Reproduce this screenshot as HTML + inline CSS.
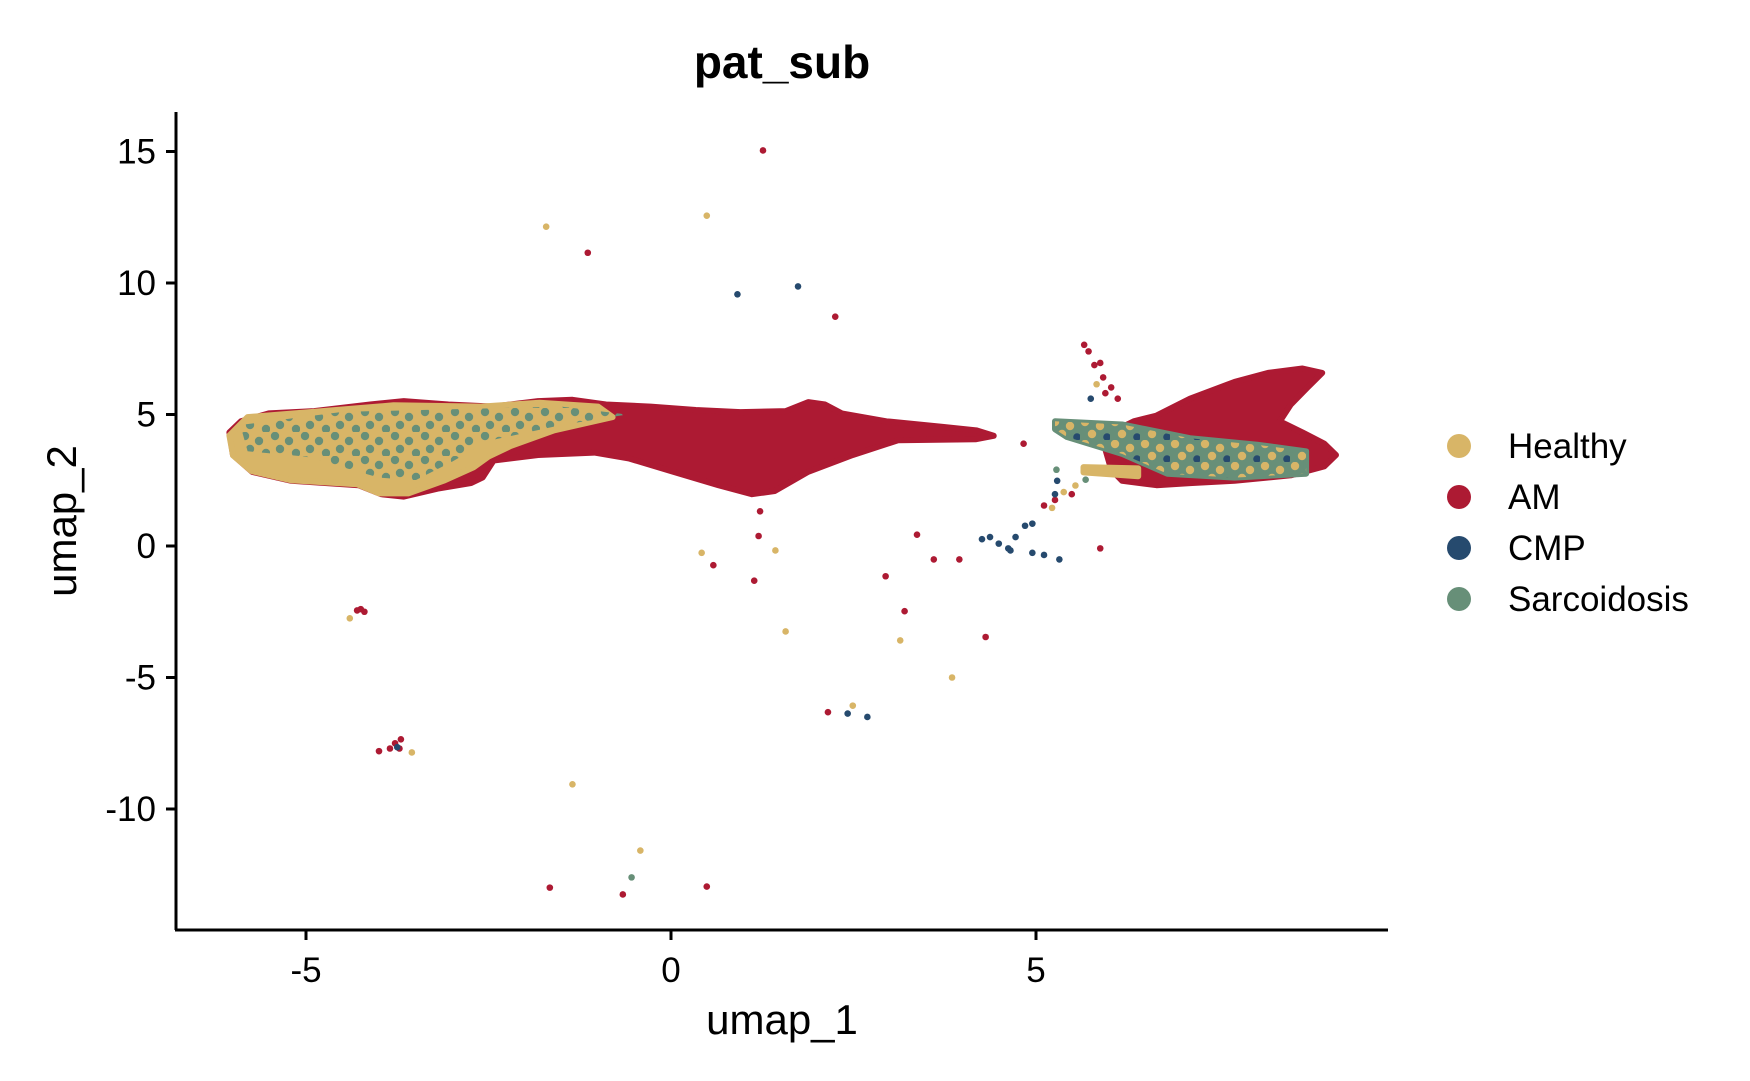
<!DOCTYPE html>
<html><head><meta charset="utf-8"><style>
body{margin:0;background:#fff}
svg{display:block;font-family:"Liberation Sans",Arial,sans-serif}
</style></head><body>
<svg id="chart" width="1750" height="1081" viewBox="0 0 1750 1081">
<defs>
<pattern id="greenDots" width="30" height="24" patternUnits="userSpaceOnUse"><circle cx="5" cy="4" r="4.2" fill="#678f78"/><circle cx="19" cy="9" r="4.2" fill="#678f78"/><circle cx="10" cy="17" r="4.2" fill="#678f78"/><circle cx="26" cy="21" r="4.2" fill="#678f78"/></pattern>
<pattern id="tanDots" width="30" height="22" patternUnits="userSpaceOnUse"><circle cx="5" cy="4" r="4.2" fill="#d8b567"/><circle cx="20" cy="8" r="4.2" fill="#d8b567"/><circle cx="12" cy="16" r="4.2" fill="#d8b567"/><circle cx="27" cy="19" r="3.8" fill="#264a6e"/></pattern>
</defs>
<text x="782" y="78" text-anchor="middle" font-size="46" font-weight="bold">pat_sub</text>
<g id="plot"></g>
<line x1="176" y1="112" x2="176" y2="930" stroke="#000" stroke-width="3"/>
<line x1="175" y1="930" x2="1388" y2="930" stroke="#000" stroke-width="3"/>
<g id="axes"></g>
<text x="782" y="1034" text-anchor="middle" font-size="42">umap_1</text>
<text transform="translate(76,521) rotate(-90)" text-anchor="middle" font-size="42">umap_2</text>
<g id="legend"></g>
</svg>
<script>
const xTicks=[-5,0,5];
const yTicks=[15,10,5,0,-5,-10];
const groups=["Healthy","AM","CMP","Sarcoidosis"];
const colors=["#d8b567","#ad1a33","#264a6e","#678f78"];
// cluster outlines (data units)
const amLeftBlob=[[-6.05,4.32],[-5.89,4.74],[-5.51,5.04],[-4.89,5.13],[-4.12,5.38],[-3.66,5.51],[-3.05,5.38],[-2.43,5.3],[-1.82,5.51],[-1.35,5.56],[-0.89,5.38],[-0.28,5.3],[0.34,5.17],[0.95,5.09],[1.57,5.13],[1.88,5.47],[2.11,5.38],[2.34,5.04],[2.95,4.74],[3.72,4.53],[4.18,4.4],[4.42,4.19],[4.18,4.06],[3.11,4.02],[2.49,3.46],[1.88,2.82],[1.42,2.09],[1.11,1.97],[0.65,2.31],[0.03,2.82],[-0.58,3.33],[-1.05,3.55],[-1.82,3.46],[-2.43,3.25],[-2.58,2.61],[-2.74,2.39],[-3.2,2.18],[-3.66,1.88],[-3.97,1.97],[-4.28,2.31],[-5.2,2.48],[-5.74,2.82],[-6.0,3.46]];
const healthyLeftBlob=[[-6.05,4.2],[-5.8,4.9],[-4.9,5.1],[-3.8,5.35],[-2.6,5.3],[-1.8,5.45],[-1.0,5.3],[-0.8,4.9],[-1.6,4.4],[-2.2,3.8],[-2.5,3.4],[-2.7,3.0],[-3.1,2.5],[-3.6,2.0],[-4.0,2.0],[-4.3,2.35],[-5.2,2.5],[-5.75,2.85],[-6.0,3.45]];
const sarcLeftBlob=[[-5.9,4.6],[-4.5,5.1],[-3,5.2],[-1.5,5.3],[-0.6,5.0],[-1.5,4.6],[-2.5,4.0],[-3,3.2],[-3.5,2.5],[-4,2.6],[-5,3.4],[-5.8,3.6]];
const amRightBlob=[[6.65,4.96],[7.11,5.6],[7.72,6.24],[8.18,6.58],[8.65,6.75],[8.92,6.58],[8.72,6.03],[8.49,5.38],[8.34,4.74],[8.65,4.32],[8.95,3.89],[9.11,3.46],[8.95,3.03],[8.49,2.69],[7.72,2.48],[7.11,2.39],[6.65,2.31],[6.18,2.48],[6.03,2.91],[5.95,3.68],[6.03,4.32],[6.34,4.74]];
const sarcRightBand=[[5.26,4.74],[6.18,4.62],[7.11,4.1],[8.03,3.85],[8.7,3.6],[8.7,2.75],[7.72,2.6],[6.8,2.75],[6.18,3.5],[5.42,4.15],[5.26,4.44]];
const healthyStreak=[[5.65,3.0],[6.4,2.95],[6.4,2.65],[5.65,2.8]];
// individual cells
const amX=[1.26,-1.14,2.25,3.37,3.6,3.95,2.94,3.2,4.31,1.14,1.2,1.22,0.58,5.88,4.83,2.15,-1.66,-0.66,0.49,-4.25,-4.2,-4.3,-3.78,-3.7,-3.85,-4.0,-3.72,5.66,5.72,5.8,5.88,5.92,5.95,6.12,6.03,5.11,5.26,5.49];
const amY=[15.04,11.15,8.72,0.43,-0.51,-0.51,-1.15,-2.48,-3.46,-1.32,0.38,1.32,-0.73,-0.09,3.89,-6.32,-12.99,-13.25,-12.95,-2.4,-2.5,-2.45,-7.5,-7.35,-7.7,-7.8,-7.7,7.65,7.4,6.88,6.96,6.41,5.81,5.6,6.03,1.54,1.75,1.97];
const healthyX=[-1.71,0.49,0.42,1.43,1.57,3.14,3.85,2.49,-1.35,-0.42,-4.4,-3.55,5.83,5.22,5.38,5.54];
const healthyY=[12.14,12.56,-0.26,-0.17,-3.25,-3.59,-5.0,-6.07,-9.06,-11.58,-2.75,-7.85,6.15,1.45,2.05,2.3];
const cmpX=[0.91,1.74,2.42,2.69,4.26,4.37,4.49,4.62,4.72,4.85,4.95,4.95,5.11,5.32,4.65,-3.75,5.75,5.26,5.29];
const cmpY=[9.57,9.87,-6.37,-6.5,0.26,0.34,0.09,-0.09,0.34,0.77,0.85,-0.26,-0.34,-0.51,-0.17,-7.65,5.6,1.97,2.48];
const sarcX=[-0.54,5.28,5.68];
const sarcY=[-12.6,2.9,2.52];

const NS="http://www.w3.org/2000/svg";
const sx=v=>671+73*v, sy=v=>546-26.3*v;
const plot=document.getElementById('plot'), axes=document.getElementById('axes'), legend=document.getElementById('legend');
function mk(tag,attrs,parent){const e=document.createElementNS(NS,tag);for(const k in attrs)e.setAttribute(k,attrs[k]);parent.appendChild(e);return e;}
function blob(pts,fill,stroke,name){
  const d=pts.map((p,i)=>(i?'L':'M')+sx(p[0]).toFixed(1)+','+sy(p[1]).toFixed(1)).join('')+'Z';
  const e=mk('path',{d:d,fill:fill,stroke:stroke,'stroke-width':6,'stroke-linejoin':'round'},plot);
  
  
}
blob(amLeftBlob,colors[1],colors[1],'am-left-cluster');
blob(healthyLeftBlob,colors[0],colors[0],'healthy-left-cluster');
blob(sarcLeftBlob,'url(#greenDots)','none','sarcoidosis-left-cells');
blob(amRightBlob,colors[1],colors[1],'am-right-cluster');
blob(sarcRightBand,colors[3],colors[3],'sarcoidosis-right-band');
blob(sarcRightBand,'url(#tanDots)','none','healthy-right-cells');
blob(healthyStreak,colors[0],colors[0],'healthy-right-streak');
function pts(xs,ys,c,name){
  xs.forEach((x,i)=>{
    const e=mk('circle',{cx:sx(x),cy:sy(ys[i]),r:3.3,fill:c},plot);
    
    
  });
}
pts(amX,amY,colors[1],'am-cell');
pts(healthyX,healthyY,colors[0],'healthy-cell');
pts(cmpX,cmpY,colors[2],'cmp-cell');
pts(sarcX,sarcY,colors[3],'sarcoidosis-cell');
xTicks.forEach(t=>{
  const l=mk('line',{x1:sx(t),x2:sx(t),y1:930,y2:940,stroke:'#000','stroke-width':3},axes);
  
  
  const tx=mk('text',{x:sx(t),y:982,'text-anchor':'middle','font-size':35},axes);
  tx.textContent=t;
  
  
});
yTicks.forEach(t=>{
  const l=mk('line',{x1:166,x2:176,y1:sy(t),y2:sy(t),stroke:'#000','stroke-width':3},axes);
  
  
  const tx=mk('text',{x:156,y:sy(t)+12,'text-anchor':'end','font-size':35},axes);
  tx.textContent=t;
  
  
});
groups.forEach((g,i)=>{
  const y=446+51*i;
  const c=mk('circle',{cx:1459,cy:y,r:12,fill:colors[i]},legend);
  
  
  const t=mk('text',{x:1508,y:y+12,'font-size':35},legend);
  t.textContent=g;
  
  
});
</script>
</body></html>
